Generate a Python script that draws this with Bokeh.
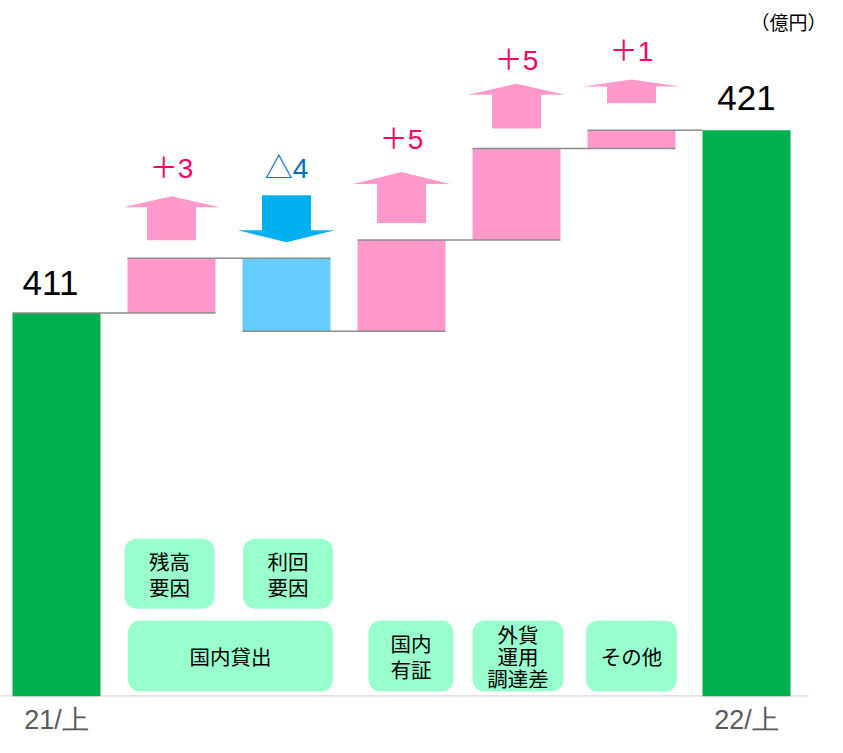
import numpy as np
from bokeh.plotting import figure
from bokeh.models import Range1d, FixedTicker
from bokeh.core.properties import value
from bokeh.embed import file_html
from bokeh.resources import INLINE

# ---------------- data ----------------
tick_labels = ["21/上", "22/上"]
start_value = 411
end_value = 421
delta_names = ["国内貸出(残高要因)", "国内貸出(利回要因)", "国内有証", "外貨運用調達差", "その他"]
delta_values = [3, -4, 5, 5, 1]
delta_labels = ["＋3", "△4", "＋5", "＋5", "＋1"]
unit_label = "（億円）"
box_texts = ["残高\n要因", "利回\n要因", "国内貸出", "国内\n有証", "外貨\n運用\n調達差", "その他"]
box_first = [1, 2, 1, 3, 4, 5]
box_last = [1, 2, 2, 3, 4, 5]
box_row = [1, 1, 0, 0, 0, 0]
axis_floor = 390

# ---------------- layout / style ----------------
W, H = 827, 737
BOTTOM = 40
PXX = 115.0      # px per category step
PXY = 18.29      # px per unit (億円)
frame_h = H - BOTTOM
x0 = -56 / PXX


def dx(px):
    return px / PXX


def dy(px):
    return px / PXY


bar_w = dx(88)
GREEN = "#00B050"
PINK = "#FF99CC"
LBLUE = "#66CCFF"
ARROW_BLUE = "#00B0F0"
POS_TXT = "#FF0066"
NEG_TXT = "#0070C0"
BOX = "#99FFCC"
NUM_FONT = "Liberation Sans, Noto Sans CJK JP"
JP_FONT = "Noto Sans CJK JP"

arrow_gap = [18, 16, 17, 20, 27]
arrow_shaft = [33, 35, 39, 34, 17]
arrow_head = [11, 12, 12, 11, 7]
label_gap = [28, 27, 33, 23, 28]
head_hw = dx(48.5)
shaft_hw = dx(24.5)

p = figure(width=W, height=H, output_backend="svg", toolbar_location=None,
           x_range=Range1d(x0, x0 + W / PXX),
           y_range=Range1d(axis_floor, axis_floor + frame_h / PXY),
           min_border_left=0, min_border_right=0, min_border_top=0,
           min_border_bottom=BOTTOM, y_axis_location=None)
p.grid.visible = False
p.outline_line_color = None
p.background_fill_color = "white"
p.border_fill_color = "white"

n = len(delta_values)
last_x = n + 1
cum = [start_value]
for d in delta_values:
    cum.append(cum[-1] + d)

# baseline
p.segment(x0=[x0], y0=[axis_floor], x1=[last_x + bar_w / 2 + dx(18)], y1=[axis_floor],
          line_color="#D9D9D9", line_width=2.5)

# total bars
p.vbar(x=[0, last_x], top=[start_value, end_value], bottom=axis_floor, width=bar_w,
       fill_color=GREEN, line_color=None)

# delta bars
dxs = list(range(1, n + 1))
bot = [min(cum[i], cum[i + 1]) for i in range(n)]
top = [max(cum[i], cum[i + 1]) for i in range(n)]
cols = [PINK if d > 0 else LBLUE for d in delta_values]
p.vbar(x=dxs, bottom=bot, top=top, width=bar_w, fill_color=cols, line_color=None)

# connectors
cx0, cx1, cy = [], [], []
for i in range(n + 1):
    cx0.append(i - bar_w / 2)
    cx1.append(i + 1 + bar_w / 2 if i < n else i + 1 - bar_w / 2)
    cy.append(cum[i])
p.segment(x0=cx0, y0=cy, x1=cx1, y1=cy, line_color="#8C8C8C", line_width=1.5)

# arrows + labels
axs, ays, acol, lx, ly, lcol = [], [], [], [], [], []
for i, d in enumerate(delta_values):
    k = i + 1
    if d > 0:
        b = cum[i + 1] + dy(arrow_gap[i])
        s = b + dy(arrow_shaft[i])
        a = s + dy(arrow_head[i])
        xs = [k - shaft_hw, k + shaft_hw, k + shaft_hw, k + head_hw, k, k - head_hw, k - shaft_hw]
        ys = [b, b, s, s, a, s, s]
        t = a
        acol.append(PINK)
        lcol.append(POS_TXT)
    else:
        a = cum[i] + dy(arrow_gap[i])
        h = a + dy(arrow_head[i])
        t = h + dy(arrow_shaft[i])
        xs = [k, k + head_hw, k + shaft_hw, k + shaft_hw, k - shaft_hw, k - shaft_hw, k - head_hw]
        ys = [a, h, h, t, t, h, h]
        acol.append(ARROW_BLUE)
        lcol.append(NEG_TXT)
    axs.append(xs)
    ays.append(ys)
    lx.append(k)
    ly.append(t + dy(label_gap[i]))
p.patches(xs=axs, ys=ays, fill_color=acol, line_color=None)
p.text(x=lx, y=ly, text=delta_labels, text_color=lcol, text_font=value(NUM_FONT),
       text_font_size="28px", text_align="center", text_baseline="middle")

# total labels
p.text(x=[0, last_x], y=[start_value + dy(30), end_value + dy(32)],
       text=[str(start_value), str(end_value)], text_color="black",
       x_offset=[-6, 0],
       text_font=value("Liberation Sans"), text_font_size="35px",
       text_align="center", text_baseline="middle")


# rounded boxes
def rounded(xl, xr, yb, yt, r_px=12, m=8):
    rx, ry = dx(r_px), dy(r_px)
    xs, ys = [], []
    corners = [(xr - rx, yt - ry, 0.0), (xl + rx, yt - ry, 0.5 * np.pi),
               (xl + rx, yb + ry, np.pi), (xr - rx, yb + ry, 1.5 * np.pi)]
    for cxx, cyy, a0 in corners:
        for t in np.linspace(a0, a0 + 0.5 * np.pi, m):
            xs.append(cxx + rx * np.cos(t))
            ys.append(cyy + ry * np.sin(t))
    return xs, ys


box_hw = [45, 45, 45, 42.5, 45.5, 45.5]
box_shift = [-2, 1.5, 1.5, 9.5, 1.5, 0]
bxs, bys, tx, ty = [], [], [], []
for j, txt in enumerate(box_texts):
    xl = box_first[j] - dx(box_hw[j]) + dx(box_shift[j])
    xr = box_last[j] + dx(box_hw[j]) + dx(box_shift[j])
    if box_row[j] == 0:
        yb, yt = axis_floor + dy(5), axis_floor + dy(76)
    else:
        yb, yt = axis_floor + dy(88), axis_floor + dy(158)
    xs, ys = rounded(xl, xr, yb, yt)
    bxs.append(xs)
    bys.append(ys)
    tx.append((xl + xr) / 2)
    ty.append((yb + yt) / 2)
p.patches(xs=bxs, ys=bys, fill_color=BOX, line_color=None)

for nl, lh in [(1, 1.0), (2, 0.86), (3, 0.72)]:
    idx = [j for j, t in enumerate(box_texts) if t.count("\n") + 1 == nl]
    if not idx:
        continue
    p.text(x=[tx[j] for j in idx], y=[ty[j] for j in idx], text=[box_texts[j] for j in idx],
           text_color="black", text_font=value(JP_FONT), text_font_size="20.5px",
           text_align="center", text_baseline="middle", text_line_height=lh)

# unit label
p.text(x=[x0 + W / PXX - dx(1)], y=[axis_floor + frame_h / PXY - dy(8)], text=[unit_label],
       text_color="black", text_font=value(JP_FONT), text_font_size="19px",
       text_align="right", text_baseline="top")

# x axis labels
p.xaxis.ticker = FixedTicker(ticks=[0, last_x])
p.xaxis.major_label_overrides = {0: tick_labels[0], last_x: tick_labels[1]}
p.xaxis.axis_line_color = None
p.xaxis.major_tick_line_color = None
p.xaxis.minor_tick_line_color = None
p.xaxis.major_tick_out = 0
p.xaxis.major_tick_in = 0
p.xaxis.major_label_standoff = 8
p.xaxis.major_label_text_font = "Liberation Sans"
p.xaxis.major_label_text_font_size = "27px"
p.xaxis.major_label_text_color = "#595959"

open("out.html", "w").write(file_html(p, INLINE))
